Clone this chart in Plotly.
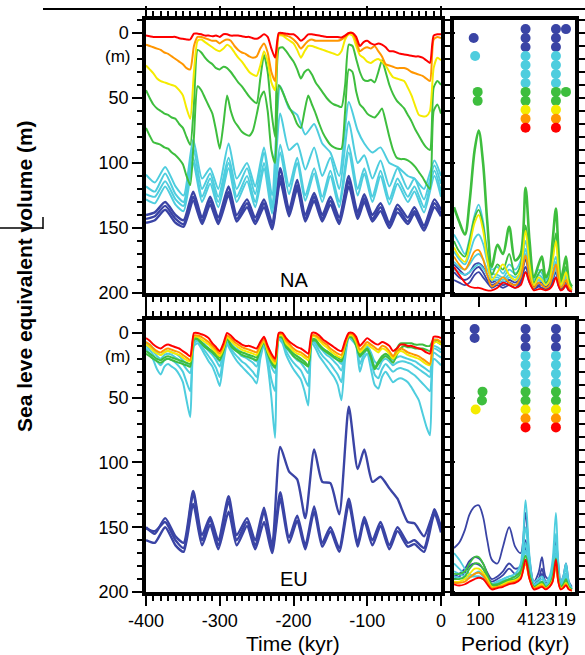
import math
import plotly.graph_objects as go

W, H = 585, 655

# ---------------- time axes -----------------
T5 = list(range(-400, 1, 5))  # kyr, 5-kyr grid (81 points)
T_OSC = [-400, -388, -374, -360, -349, -336, -324, -313, -302, -288, -277, -263, -252, -240,
         -229, -218, -206, -195, -184, -172, -161, -150, -138, -125, -113, -104, -93, -82,
         -70, -59, -45, -36, -23, -9, 0]
TIME_TICKS = [-400, -300, -200, -100, 0]
TIME_TICK_TEXT = ["-400", "-300", "-200", "-100", "0"]

# ---------------- NA (sea level equivalent, m) -----------------
NA_red = [2, 2.5, 3, 3, 3, 3, 3, 3, 3, 4,
          4.5, 5, 5, 0.5, 0.5, 1, 2, 2, 2.5, 2,
          3, 1, 1, 2, 2, 2, 2.5, 3, 3, 4,
          4.5, 3, 1, 3, 12, 19, 0, 0, 0.5, 1,
          1, 3, 6, 4, 1, 1, 1.5, 2, 2.5, 3,
          3, 3, 3, 3.5, 2, 0, 0, 3, 10, 7,
          6, 8, 9, 8, 9, 11, 14, 14, 15, 16,
          16.5, 17, 17.5, 18, 18, 19, 21, 23, 2, 1,
          1]
NA_orange = [9, 10, 11, 12, 13, 15, 16, 18, 20, 22,
             24, 27, 28, 10, 3, 3, 4, 5, 6, 6,
             8, 6, 5, 6, 10, 13, 15, 16, 18, 19,
             18, 12, 8, 15, 30, 37, 1, 1, 2, 3,
             5, 8, 12, 9, 6, 5, 6, 6, 6, 6,
             6, 6, 6, 5, 3, 0, 0, 6, 14, 12,
             11, 12, 10, 14, 18, 24, 25, 26, 27, 27,
             27, 28, 30, 31, 32, 33, 35, 37, 5, 3,
             4]
NA_yellow = [25, 28, 31, 35, 37, 38, 39, 40, 41, 44,
             48, 58, 66, 30, 6, 5, 7, 9, 11, 13,
             14, 12, 9, 11, 15, 19, 22, 26, 30, 32,
             33, 25, 14, 22, 38, 44, 2, 2, 4, 6,
             8, 13, 19, 14, 10, 10, 11, 12, 13, 14,
             15, 16, 17, 14, 5, 1, 2, 10, 17, 19,
             22, 23, 21, 20, 22, 25, 30, 34, 35, 36,
             37, 42, 48, 56, 63, 64, 64, 60, 27, 19,
             21]
NA_green1 = [44, 50, 55, 58, 60, 62, 63, 65, 66, 70,
             73, 80, 86, 55, 13, 15, 19, 22, 24, 27,
             28, 26, 27, 30, 34, 38, 41, 45, 49, 52,
             54, 35, 17, 30, 60, 80, 12, 11, 14, 18,
             22, 28, 35, 30, 28, 32, 38, 42, 46, 50,
             53, 55, 56, 57, 40, 9, 10, 20, 30, 36,
             37, 36, 38, 30, 21, 30, 40, 47, 52, 55,
             58, 63, 68, 74, 79, 84, 88, 90, 42, 37,
             40]
NA_green2 = [73, 79, 84, 85, 86, 88, 89, 92, 94, 97,
             101, 110, 117, 80, 41, 44, 50, 56, 62, 75,
             89, 70, 48, 60, 68, 72, 76, 78, 79, 75,
             63, 50, 45, 60, 90, 100, 40, 45, 52, 58,
             63, 70, 73, 60, 48, 55, 62, 70, 77, 82,
             86, 88, 89, 89, 60, 28, 30, 45, 55, 58,
             62, 64, 65, 62, 58, 68, 80, 90, 96, 97,
             97, 98, 100, 103, 107, 111, 116, 120, 60, 55,
             62]
NA_cyan1 = [109, 115, 103, 118, 125, 82, 112, 104, 120, 85, 112, 100, 118, 88, 125, 41, 58, 63,
            78, 70, 85, 92, 110, 53, 75, 85, 92, 88, 100, 103, 110, 112, 120, 98, 110]
NA_cyan2 = [118, 122, 108, 124, 130, 88, 120, 108, 126, 96, 120, 104, 124, 92, 132, 62, 90, 85,
            105, 88, 110, 96, 120, 68, 100, 94, 112, 98, 118, 104, 120, 112, 128, 102, 116]
NA_cyan3 = [124, 126, 114, 128, 133, 96, 126, 112, 130, 100, 126, 110, 130, 100, 135, 86, 118, 96,
            125, 104, 126, 106, 130, 86, 120, 104, 126, 106, 128, 112, 126, 118, 134, 106, 122]
NA_cyan4 = [128, 131, 118, 132, 137, 100, 130, 116, 134, 104, 130, 114, 134, 104, 139, 92, 124, 100,
            129, 108, 130, 110, 134, 92, 125, 108, 130, 110, 132, 116, 130, 122, 138, 110, 126]
NA_blue1 = [140, 138, 130, 140, 144, 122, 142, 126, 142, 118, 140, 128, 142, 128, 146, 104, 136, 113,
            140, 123, 140, 126, 142, 110, 138, 124, 140, 131, 146, 132, 142, 134, 148, 128, 136]
NA_blue2 = [143, 141, 133, 143, 147, 126, 145, 129, 145, 122, 143, 131, 145, 131, 149, 110, 139, 117,
            143, 126, 143, 129, 145, 114, 141, 127, 143, 134, 148, 135, 145, 137, 150, 131, 139]
NA_blue3 = [146, 144, 136, 146, 149, 129, 147, 132, 147, 125, 145, 134, 147, 134, 151, 114, 141, 120,
            145, 129, 145, 132, 147, 118, 143, 130, 145, 137, 150, 138, 147, 139, 152, 134, 141]

# ---------------- EU (sea level equivalent, m) -----------------
EU_red = [4, 6, 9, 11, 12, 10, 9, 10, 11, 12,
          14, 16, 18, 0, 0, 1, 2, 4, 8, 11,
          14, 8, 0, 2, 5, 7, 9, 10, 10, 11,
          12, 7, 3, 10, 16, 20, 0, 0, 4, 7,
          9, 11, 12, 14, 16, 0, 0, 2, 5, 7,
          9, 11, 13, 14, 6, 0, 0, 3, 10, 7,
          4, 6, 8, 9, 7, 8, 10, 14, 12, 9,
          9, 10, 10, 11, 12, 13, 15, 16, 3, 3,
          4]
EU_orange = [7, 9, 12, 14, 15, 13, 12, 13, 14, 15,
             17, 19, 21, 2, 2, 3, 5, 7, 10, 13,
             16, 10, 2, 4, 7, 9, 11, 12, 13, 14,
             15, 9, 5, 12, 18, 22, 1, 1, 6, 9,
             12, 14, 15, 17, 19, 2, 2, 4, 7, 9,
             12, 14, 16, 17, 8, 1, 1, 5, 13, 10,
             7, 9, 11, 13, 10, 11, 14, 18, 14, 12,
             13, 15, 16, 17, 18, 20, 22, 24, 6, 5,
             7]
EU_yellow = [9, 11, 14, 16, 17, 15, 14, 15, 16, 17,
             19, 21, 22, 3, 3, 5, 7, 9, 12, 15,
             18, 12, 3, 6, 9, 11, 13, 14, 15, 16,
             17, 11, 6, 14, 20, 24, 2, 2, 8, 11,
             14, 16, 17, 19, 21, 3, 3, 6, 9, 11,
             14, 16, 18, 19, 9, 2, 2, 7, 15, 12,
             9, 11, 13, 15, 12, 13, 16, 20, 16, 14,
             15, 17, 18, 19, 20, 22, 24, 25, 8, 7,
             9]
EU_green1 = [14, 16, 18, 20, 21, 19, 18, 19, 20, 21,
             22, 23, 24, 4, 4, 7, 10, 12, 14, 16,
             19, 13, 3, 9, 12, 14, 15, 16, 17, 18,
             19, 12, 6, 15, 21, 25, 2, 3, 10, 13,
             16, 18, 20, 22, 25, 5, 5, 9, 12, 14,
             16, 18, 19, 21, 10, 2, 3, 9, 17, 14,
             12, 18, 27, 22, 18, 16, 18, 20, 12, 8,
             8, 8, 8, 9, 9, 9, 10, 10, 5, 6,
             8]
EU_green2 = [16, 18, 20, 22, 23, 21, 20, 21, 22, 23,
             24, 25, 26, 5, 5, 8, 11, 13, 15, 18,
             21, 14, 4, 10, 13, 15, 17, 18, 19, 20,
             21, 13, 7, 16, 23, 27, 3, 4, 11, 14,
             18, 20, 22, 24, 26, 6, 6, 10, 13, 15,
             17, 19, 21, 22, 11, 3, 4, 10, 18, 15,
             13, 19, 28, 24, 20, 18, 20, 23, 17, 12,
             10, 11, 11, 12, 12, 12, 13, 14, 6, 7,
             9]
EU_cyan1 = [12, 16, 21, 28, 32, 26, 24, 26, 28, 32,
            38, 52, 65, 10, 8, 12, 17, 22, 26, 33,
            41, 22, 9, 14, 19, 23, 26, 29, 32, 35,
            39, 20, 10, 25, 50, 81, 5, 8, 17, 23,
            28, 32, 36, 45, 56, 8, 12, 18, 22, 26,
            30, 34, 40, 52, 20, 4, 6, 10, 30, 20,
            16, 28, 40, 43, 34, 30, 34, 38, 36, 35,
            36, 38, 42, 47, 52, 62, 72, 79, 20, 22,
            25]
EU_cyan2 = [10, 13, 17, 22, 25, 21, 20, 21, 23, 26,
            30, 38, 45, 8, 6, 10, 14, 18, 22, 27,
            34, 18, 7, 12, 16, 19, 22, 24, 27, 30,
            34, 17, 8, 20, 36, 45, 4, 6, 14, 19,
            23, 26, 29, 35, 41, 6, 9, 14, 18, 21,
            24, 28, 32, 38, 15, 3, 5, 9, 24, 17,
            13, 22, 32, 35, 28, 24, 27, 30, 28, 27,
            28, 29, 31, 33, 36, 39, 42, 45, 15, 17,
            19]
EU_cyan3 = [8, 11, 14, 18, 20, 17, 16, 17, 19, 21,
            24, 28, 31, 6, 5, 8, 11, 14, 17, 21,
            26, 14, 5, 10, 13, 15, 18, 19, 21, 23,
            26, 14, 6, 16, 26, 31, 3, 5, 11, 15,
            18, 21, 23, 27, 31, 5, 7, 11, 14, 17,
            19, 22, 25, 29, 12, 2, 4, 8, 19, 14,
            11, 18, 26, 28, 22, 20, 22, 25, 23, 22,
            22, 23, 24, 26, 28, 30, 32, 34, 12, 13,
            15]
EU_cyan4 = [7, 9, 12, 15, 17, 15, 14, 15, 16, 18,
            21, 24, 26, 5, 4, 7, 9, 12, 15, 18,
            22, 12, 4, 8, 11, 13, 15, 16, 18, 20,
            22, 12, 5, 14, 22, 26, 2, 4, 9, 13,
            16, 18, 20, 23, 26, 4, 6, 9, 12, 14,
            16, 19, 21, 24, 10, 2, 3, 7, 16, 12,
            10, 15, 22, 24, 19, 17, 19, 21, 19, 18,
            19, 20, 21, 22, 24, 26, 28, 30, 10, 11,
            13]
EU_blue1 = [151, 153, 146, 160, 166, 124, 160, 144, 164, 130, 160, 146, 164, 138, 167, 123, 158, 141,
            164, 134, 162, 150, 166, 128, 162, 142, 160, 146, 164, 150, 162, 160, 166, 136, 150]
EU_blue2 = [160, 162, 150, 164, 169, 132, 164, 148, 167, 138, 164, 149, 167, 146, 170, 128, 162, 145,
            167, 138, 165, 153, 169, 132, 165, 145, 164, 149, 167, 153, 165, 163, 169, 140, 154]
EU_blue3 = [150, 155, 143, 157, 162, 122, 156, 142, 160, 126, 156, 143, 160, 135, 164, 88, 107, 113,
            143, 90, 115, 116, 140, 57, 105, 90, 115, 111, 120, 128, 146, 147, 157, 138, 151]

# ---------------- spectra (relative power) -----------------
PERIOD = [160, 145, 130, 119, 108, 100, 92, 85, 78, 70, 63, 56, 50, 45, 41, 38, 35, 32, 30, 28,
          26, 24.5, 23, 22, 21, 20, 19, 18, 17]

NA_sp_blue1 = [22, 18, 14, 16, 22, 23, 20, 14, 8, 10, 8, 10, 8, 12, 26, 12, 5, 8, 8, 5, 8, 12, 20, 10, 4, 6, 8, 4, 2]
NA_sp_blue2 = [16, 12, 10, 12, 18, 20, 16, 10, 6, 8, 6, 8, 6, 10, 20, 10, 4, 6, 6, 4, 6, 10, 16, 8, 3, 5, 6, 3, 1]
NA_sp_blue3 = [10, 8, 6, 8, 14, 16, 12, 8, 4, 6, 4, 6, 4, 8, 16, 8, 3, 5, 4, 3, 4, 8, 12, 6, 2, 4, 5, 2, 1]
NA_sp_cyan1 = [45, 38, 30, 42, 60, 68, 55, 32, 18, 20, 15, 22, 18, 25, 50, 26, 12, 18, 15, 10, 14, 20, 28, 16, 8, 12, 18, 8, 4]
NA_sp_cyan2 = [32, 26, 22, 30, 42, 45, 38, 24, 15, 14, 12, 18, 15, 20, 40, 22, 10, 14, 12, 8, 12, 16, 24, 14, 7, 10, 15, 6, 3]
NA_sp_cyan3 = [24, 20, 18, 22, 28, 30, 26, 18, 12, 12, 10, 14, 12, 16, 34, 18, 8, 12, 10, 7, 10, 14, 22, 12, 6, 9, 14, 5, 3]
NA_sp_cyan4 = [18, 16, 14, 16, 20, 22, 19, 14, 10, 10, 8, 12, 10, 14, 30, 16, 7, 10, 9, 6, 9, 12, 20, 10, 5, 8, 12, 5, 2]
NA_sp_green1 = [40, 32, 28, 40, 58, 64, 52, 30, 14, 22, 18, 30, 14, 22, 52, 28, 8, 15, 18, 8, 12, 28, 46, 24, 8, 14, 20, 8, 4]
NA_sp_green2 = [66, 55, 45, 70, 110, 125, 100, 55, 20, 37, 30, 51, 25, 30, 81, 40, 12, 22, 28, 12, 18, 40, 65, 35, 10, 18, 28, 10, 5]
NA_sp_yellow = [35, 28, 24, 36, 54, 60, 48, 26, 10, 16, 22, 14, 10, 18, 48, 22, 6, 12, 10, 6, 10, 24, 40, 20, 6, 10, 16, 6, 3]
NA_sp_orange = [28, 22, 18, 24, 32, 33, 26, 14, 5, 8, 12, 8, 6, 12, 29, 12, 4, 8, 6, 4, 6, 14, 22, 12, 4, 6, 10, 4, 2]
NA_sp_red = [20, 14, 8, 5, 4, 4, 3, 2, 2, 4, 8, 6, 4, 6, 16, 8, 2, 3, 3, 2, 3, 6, 12, 6, 2, 3, 6, 2, 1]

EU_sp_blue1 = [12, 14, 18, 24, 27, 26, 22, 15, 10, 12, 16, 22, 18, 20, 40, 18, 6, 10, 18, 8, 7, 14, 30, 14, 5, 8, 14, 5, 2]
EU_sp_blue2 = [10, 12, 15, 20, 22, 21, 18, 12, 8, 10, 13, 18, 14, 16, 34, 15, 5, 8, 14, 6, 6, 12, 26, 12, 4, 7, 12, 4, 2]
EU_sp_blue3 = [34, 38, 48, 60, 66, 67, 58, 40, 25, 22, 35, 50, 35, 30, 61, 25, 8, 15, 27, 12, 10, 20, 40, 22, 8, 12, 22, 8, 4]
EU_sp_cyan1 = [30, 25, 18, 14, 12, 12, 10, 8, 6, 8, 10, 12, 14, 22, 71, 28, 8, 10, 12, 8, 12, 25, 61, 24, 8, 12, 22, 8, 3]
EU_sp_cyan2 = [22, 18, 14, 12, 12, 12, 10, 8, 6, 8, 10, 12, 12, 18, 50, 20, 6, 8, 10, 6, 10, 20, 45, 18, 6, 10, 18, 6, 2]
EU_sp_cyan3 = [16, 14, 12, 12, 14, 15, 12, 8, 5, 7, 9, 10, 10, 14, 38, 16, 5, 7, 8, 5, 8, 16, 36, 14, 5, 8, 14, 5, 2]
EU_sp_cyan4 = [12, 11, 10, 11, 14, 16, 13, 8, 5, 6, 8, 9, 9, 12, 32, 14, 4, 6, 7, 4, 7, 14, 30, 12, 4, 7, 12, 4, 2]
EU_sp_green1 = [14, 14, 16, 22, 27, 27, 22, 14, 6, 6, 8, 10, 12, 16, 28, 14, 4, 6, 8, 4, 6, 12, 26, 12, 4, 6, 10, 4, 2]
EU_sp_green2 = [10, 10, 12, 18, 22, 22, 18, 12, 5, 5, 7, 9, 10, 14, 25, 12, 4, 5, 7, 4, 5, 10, 22, 10, 3, 5, 8, 3, 1]
EU_sp_yellow = [8, 8, 10, 14, 18, 18, 15, 10, 4, 4, 6, 8, 9, 12, 22, 10, 3, 5, 6, 3, 5, 9, 20, 9, 3, 4, 7, 3, 1]
EU_sp_orange = [7, 7, 8, 11, 14, 15, 13, 8, 3, 4, 5, 7, 8, 11, 22, 10, 3, 4, 5, 3, 4, 8, 20, 8, 2, 4, 6, 2, 1]
EU_sp_red = [6, 5, 6, 8, 10, 11, 10, 6, 2, 3, 4, 6, 7, 10, 25, 10, 2, 3, 4, 2, 4, 8, 25, 8, 2, 3, 5, 2, 1]

# significant spectral peaks (period, series row)
NA_DOT_PERIOD = [110, 107, 102, 102] + [41] * 12 + [23] * 12 + [19, 19]
NA_DOT_ROW = [1, 3, 7, 8] + list(range(12)) + list(range(12)) + [0, 7]
EU_DOT_PERIOD = [108, 108, 93, 94, 106] + [41] * 12 + [23] * 12
EU_DOT_ROW = [0, 1, 7, 8, 9] + list(range(12)) + list(range(12))

PERIOD_TICKS = [100, 41, 23, 19]
PERIOD_TICK_TEXT = ["100", "41", "23", "19"]
PERIOD_TICK_LABEL_X = [480, 526, 545.5, 566.5]

# ---------------- styling -----------------
BLUE = "rgb(58,68,165)"
CYAN = "rgb(78,205,222)"
GREEN = "rgb(62,190,62)"
YELLOW = "rgb(245,235,0)"
ORANGE = "rgb(255,150,0)"
RED = "rgb(255,0,0)"
ROW_COLORS = [BLUE] * 3 + [CYAN] * 4 + [GREEN] * 2 + [YELLOW, ORANGE, RED]
FONT = "Liberation Sans, Arial, Helvetica, sans-serif"

fig = go.Figure()


def add_line(x, y, color, xa, ya, width=2.0, smooth=0.6):
    fig.add_trace(go.Scatter(x=x, y=y, mode="lines", xaxis=xa, yaxis=ya,
                             line=dict(color=color, width=width, shape="spline", smoothing=smooth),
                             hoverinfo="skip", showlegend=False))


# NA time series
for s in [NA_blue1, NA_blue2, NA_blue3]:
    add_line(T_OSC, s, BLUE, "x", "y", 2.4)
for s in [NA_cyan1, NA_cyan2, NA_cyan3, NA_cyan4]:
    add_line(T_OSC, s, CYAN, "x", "y")
for s in [NA_green1, NA_green2]:
    add_line(T5, s, GREEN, "x", "y")
add_line(T5, NA_yellow, YELLOW, "x", "y")
add_line(T5, NA_orange, ORANGE, "x", "y")
add_line(T5, NA_red, RED, "x", "y")

# EU time series
for s in [EU_blue1, EU_blue2, EU_blue3]:
    add_line(T_OSC, s, BLUE, "x2", "y2", 2.4)
for s in [EU_cyan1, EU_cyan2, EU_cyan3, EU_cyan4]:
    add_line(T5, s, CYAN, "x2", "y2")
for s in [EU_green1, EU_green2]:
    add_line(T5, s, GREEN, "x2", "y2")
add_line(T5, EU_yellow, YELLOW, "x2", "y2")
add_line(T5, EU_orange, ORANGE, "x2", "y2")
add_line(T5, EU_red, RED, "x2", "y2")

# spectra
NA_SPECTRA = [NA_sp_blue1, NA_sp_blue2, NA_sp_blue3, NA_sp_cyan1, NA_sp_cyan2, NA_sp_cyan3,
              NA_sp_cyan4, NA_sp_green1, NA_sp_green2, NA_sp_yellow, NA_sp_orange, NA_sp_red]
EU_SPECTRA = [EU_sp_blue1, EU_sp_blue2, EU_sp_blue3, EU_sp_cyan1, EU_sp_cyan2, EU_sp_cyan3,
              EU_sp_cyan4, EU_sp_green1, EU_sp_green2, EU_sp_yellow, EU_sp_orange, EU_sp_red]
for i, s in enumerate(NA_SPECTRA):
    add_line(PERIOD, s, ROW_COLORS[i], "x3", "y3", 2.6 if i == 8 else 1.8, 0.9)
for i, s in enumerate(EU_SPECTRA):
    add_line(PERIOD, s, ROW_COLORS[i], "x4", "y4", 1.8, 0.9)

# significance dots
DOT_TOP, DOT_STEP = 203, 6.9
for per, rows, xa, ya in [(NA_DOT_PERIOD, NA_DOT_ROW, "x3", "y3"), (EU_DOT_PERIOD, EU_DOT_ROW, "x4", "y4")]:
    fig.add_trace(go.Scatter(x=per, y=[DOT_TOP - DOT_STEP * r for r in rows], mode="markers",
                             xaxis=xa, yaxis=ya, hoverinfo="skip", showlegend=False,
                             marker=dict(size=10, color=[ROW_COLORS[r] for r in rows], line=dict(width=0))))

# ---------------- axes -----------------
XDOM = [146 / W, 441 / W]
PDOM = [454 / W, 575 / W]
YDOM_NA = [1 - 293 / H, 1 - 20 / H]
YDOM_EU = [1 - 592 / H, 1 - 320 / H]
tickfont = dict(family=FONT, size=18, color="black")
frame = dict(showline=True, linewidth=3.5, linecolor="black", showgrid=False, zeroline=False,
             tickcolor="black", ticks="outside", automargin=False)


def time_x(dom_anchor, labels):
    return dict(frame, domain=XDOM, anchor=dom_anchor, range=[-400, 0], mirror="allticks",
                tickmode="array", tickvals=TIME_TICKS, ticktext=TIME_TICK_TEXT,
                ticklen=10, tickwidth=2, showticklabels=labels,
                tickfont=tickfont, ticklabelstandoff=0,
                minor=dict(ticks="outside", ticklen=5, tickwidth=1.5, tick0=0, dtick=10, tickcolor="black"))


def time_y(dom, anchor):
    return dict(frame, domain=dom, anchor=anchor, range=[200, -10], mirror="allticks",
                tick0=0, dtick=50, ticklen=10, tickwidth=2, showticklabels=True, tickfont=tickfont,
                minor=dict(ticks="outside", ticklen=5, tickwidth=1.5, tick0=0, dtick=10, tickcolor="black"))


def per_x(anchor):
    return dict(frame, domain=PDOM, anchor=anchor, type="log",
                range=[math.log10(160), math.log10(16)], mirror=True,
                tickvals=PERIOD_TICKS, ticklen=10, tickwidth=2, showticklabels=False)


def per_y(dom, anchor):
    return dict(frame, domain=dom, anchor=anchor, range=[0, 210], side="right", mirror=True,
                tick0=0, dtick=50, ticklen=8, tickwidth=2, showticklabels=False,
                minor=dict(ticks="outside", ticklen=7, tickwidth=2, tick0=0, dtick=10, tickcolor="black"))


fig.update_layout(
    width=W, height=H, margin=dict(l=0, r=0, t=0, b=0, pad=0, autoexpand=False), autosize=False,
    paper_bgcolor="white", plot_bgcolor="white",
    font=dict(family=FONT, color="black"),
    xaxis=time_x("y", False), yaxis=time_y(YDOM_NA, "x"),
    xaxis2=time_x("y2", True), yaxis2=time_y(YDOM_EU, "x2"),
    xaxis3=per_x("y3"), yaxis3=per_y(YDOM_NA, "x3"),
    xaxis4=per_x("y4"), yaxis4=per_y(YDOM_EU, "x4"),
)

ann = []
for ya in ["y", "y2"]:
    ann.append(dict(x=132 / W, xref="paper", y=18, yref=ya, text="(m)", showarrow=False,
                    xanchor="right", yanchor="middle", font=dict(family=FONT, size=17)))
ann.append(dict(x=-200, xref="x", y=190, yref="y", text="NA", showarrow=False,
                xanchor="center", yanchor="middle", font=dict(family=FONT, size=20)))
ann.append(dict(x=-200, xref="x2", y=190, yref="y2", text="EU", showarrow=False,
                xanchor="center", yanchor="middle", font=dict(family=FONT, size=20)))
for px, txt in zip(PERIOD_TICK_LABEL_X, PERIOD_TICK_TEXT):
    ann.append(dict(x=px / W, xref="paper", y=1 - 619 / H, yref="paper", text=txt, showarrow=False,
                    xanchor="center", yanchor="middle", borderpad=0, font=dict(family=FONT, size=17)))
ann.append(dict(x=293 / W, xref="paper", y=1 - 643 / H, yref="paper", text="Time (kyr)",
                showarrow=False, xanchor="center", yanchor="middle", borderpad=0,
                font=dict(family=FONT, size=21)))
ann.append(dict(x=515 / W, xref="paper", y=1 - 643 / H, yref="paper", text="Period (kyr)",
                showarrow=False, xanchor="center", yanchor="middle", borderpad=0,
                font=dict(family=FONT, size=21)))
ann.append(dict(x=24 / W, xref="paper", y=1 - 276 / H, yref="paper",
                text="<b>Sea leve equivalent volume (m)</b>", textangle=-90, showarrow=False,
                xanchor="center", yanchor="middle", font=dict(family=FONT, size=21)))
fig.update_layout(annotations=ann)

shapes = [
    dict(type="line", xref="paper", yref="paper", x0=43 / W, x1=1, y0=1 - 9 / H, y1=1 - 9 / H,
         line=dict(color="black", width=2)),
    dict(type="line", xref="paper", yref="paper", x0=0, x1=43 / W, y0=1 - 228 / H, y1=1 - 228 / H,
         line=dict(color="black", width=1.5)),
    dict(type="line", xref="paper", yref="paper", x0=43 / W, x1=43 / W, y0=1 - 217 / H, y1=1 - 229 / H,
         line=dict(color="black", width=1.5)),
]
fig.update_layout(shapes=shapes)

fig.write_html("out.html")
